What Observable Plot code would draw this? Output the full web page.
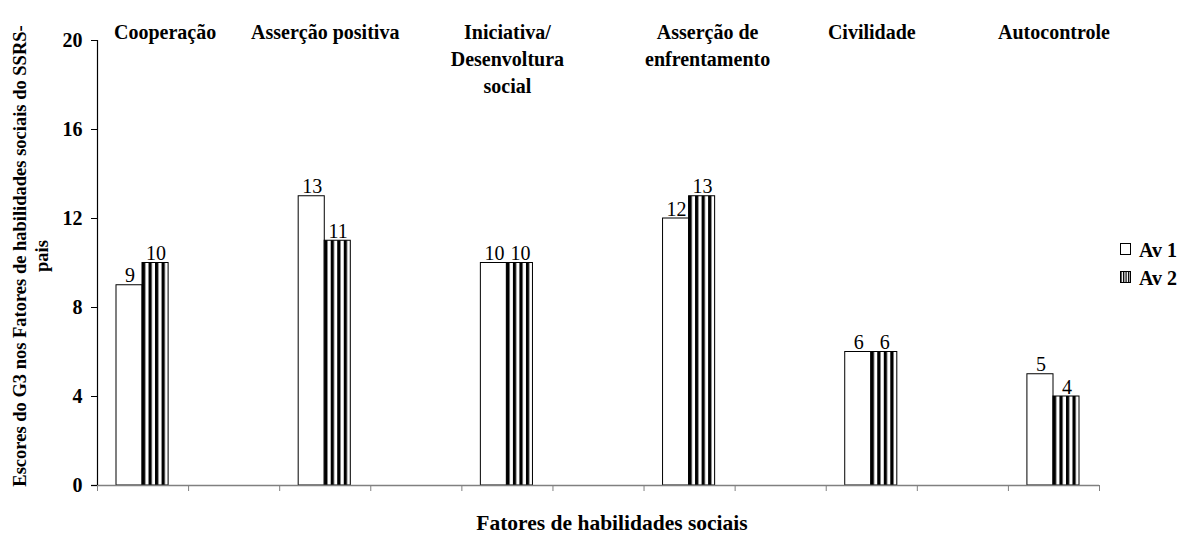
<!DOCTYPE html>
<html>
<head>
<meta charset="utf-8">
<script src="https://cdn.jsdelivr.net/npm/d3@7"></script>
<script src="https://cdn.jsdelivr.net/npm/@observablehq/plot@0.6"></script>
<style>
  html, body { margin: 0; padding: 0; background: #fff; }
  #chart { position: relative; width: 1183px; height: 534px; }
</style>
</head>
<body>
<div id="chart"></div>
<script>
const categories = ["Cooperação", "Asserção positiva", "Iniciativa/\nDesenvoltura\nsocial", "Asserção de\nenfrentamento", "Civilidade", "Autocontrole"];
const av1 = [9, 13, 10, 12, 6, 5];
const av2 = [10, 11, 10, 13, 6, 4];
const seriesNames = ["Av 1", "Av 2"];
const yTicks = [0, 4, 8, 12, 16, 20];
const yTitle = ["Escores do G3 nos Fatores de habilidades sociais do SSRS-", "pais"];
const xTitle = "Fatores de habilidades sociais";

const SLOTS = categories.length * 2 - 1; // empty band between categories
const cats = categories.map((name, i) => ({name, slot: i * 2}));
const rows1 = cats.map((c, i) => ({...c, series: seriesNames[0], value: av1[i]}));
const rows2 = cats.map((c, i) => ({...c, series: seriesNames[1], value: av2[i]}));

const serif = "'Liberation Serif', 'Times New Roman', serif";

const plot = Plot.plot({
  width: 1183,
  height: 534,
  marginLeft: 97,
  marginRight: 84,
  marginTop: 40,
  marginBottom: 49,
  style: {fontFamily: serif, background: "#fff", color: "#000"},
  x: {domain: [0, SLOTS], axis: null},
  y: {domain: [0, 20], axis: null},
  marks: [
    Plot.rectY(rows1, {x1: d => d.slot, x2: d => d.slot + 1, y: "value", insetLeft: 19, insetRight: 46, fill: "white", stroke: "black", strokeWidth: 1}),
    Plot.rectY(rows2, {x1: d => d.slot, x2: d => d.slot + 1, y: "value", insetLeft: 45, insetRight: 20, fill: "url(#vstripes)", stroke: "black", strokeWidth: 1}),
    Plot.text(rows1, {x: d => d.slot + 0.5, y: "value", text: d => String(d.value), dx: -13, dy: -3, lineAnchor: "bottom", fontSize: 20, fill: "black"}),
    Plot.text(rows2, {x: d => d.slot + 0.5, y: "value", text: d => String(d.value), dx: 13, dy: -3, lineAnchor: "bottom", fontSize: 20, fill: "black"}),
    Plot.axisX({ticks: d3.range(0, SLOTS + 1), tickSize: 6, tickFormat: () => "", stroke: "#808080", label: null}),
    Plot.ruleY([0], {stroke: "#808080", strokeWidth: 1.5, insetLeft: -6}),
    Plot.ruleX([0], {stroke: "black", strokeWidth: 1.2}),
    Plot.axisY({ticks: yTicks, tickSize: 6, tickPadding: 9, fontSize: 20, fontWeight: "bold", label: null}),
    Plot.text(cats.filter(c => c.slot === 0), {x: d => d.slot + 0.5, text: "name", frameAnchor: "top", lineAnchor: "top", dy: -21, dx: 22, lineHeight: 1.35, fontSize: 20, fontWeight: "bold", fill: "black"}),
    Plot.text(cats.filter(c => c.slot === 6), {x: d => d.slot + 0.5, text: "name", frameAnchor: "top", lineAnchor: "top", dy: -21, dx: 18, lineHeight: 1.35, fontSize: 20, fontWeight: "bold", fill: "black"}),
    Plot.text(cats.filter(c => c.slot !== 0 && c.slot !== 6), {x: d => d.slot + 0.5, text: "name", frameAnchor: "top", lineAnchor: "top", dy: -21, lineHeight: 1.35, fontSize: 20, fontWeight: "bold", fill: "black"})
  ]
});

const svg = d3.select(plot);
const defs = svg.insert("defs", ":first-child");
const pat = defs.append("pattern")
  .attr("id", "vstripes")
  .attr("patternUnits", "objectBoundingBox")
  .attr("patternContentUnits", "objectBoundingBox")
  .attr("width", 0.25).attr("height", 1);
pat.append("rect").attr("x", 0).attr("y", 0).attr("width", 0.25).attr("height", 1).attr("fill", "white");
pat.append("rect").attr("x", 0).attr("y", 0).attr("width", 0.125).attr("height", 1).attr("fill", "black");

// Y title (rotated, two lines)
const yt = svg.append("text")
  .attr("transform", "translate(26,256) rotate(-90)")
  .attr("text-anchor", "middle")
  .attr("font-family", serif)
  .attr("font-weight", "bold")
  .attr("font-size", 18.5)
  .attr("fill", "black");
yTitle.forEach((t, i) => {
  yt.append("tspan").attr("x", 0).attr("dy", i === 0 ? 0 : 22).text(t);
});

// X title
svg.append("text")
  .attr("x", 612).attr("y", 530)
  .attr("text-anchor", "middle")
  .attr("font-family", serif)
  .attr("font-weight", "bold")
  .attr("font-size", 21.5)
  .attr("fill", "black")
  .text(xTitle);

// Legend
const lg = svg.append("g").attr("transform", "translate(1120,243)");
seriesNames.forEach((name, i) => {
  const g = lg.append("g").attr("transform", `translate(0,${i * 28})`);
  g.append("rect").attr("x", 0.5).attr("y", 0.5).attr("width", 10).attr("height", 11)
    .attr("fill", i === 0 ? "white" : "url(#vstripes)").attr("stroke", "black");
  g.append("text").attr("x", 19).attr("y", 14)
    .attr("text-anchor", "start")
    .attr("font-family", serif).attr("font-weight", "bold").attr("font-size", 20)
    .attr("fill", "black").text(name);
});

document.getElementById("chart").appendChild(plot);
</script>
</body>
</html>
